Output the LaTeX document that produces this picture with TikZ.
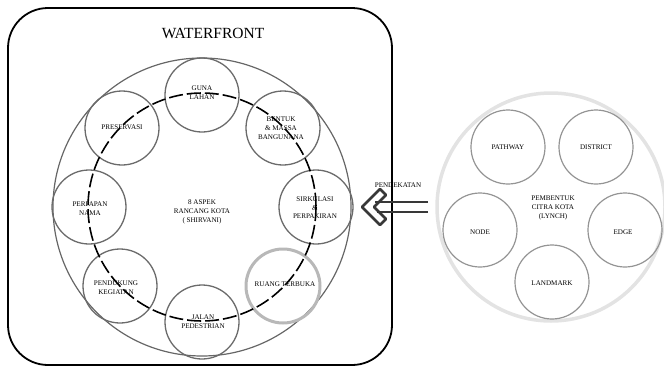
\documentclass[tikz,border=0pt]{standalone}
\usepackage{fontspec}
\setmainfont{Liberation Serif}
\begin{document}
\begin{tikzpicture}[x=1pt,y=-1pt,
  small/.style={circle,draw=black!58,line width=1.3pt,minimum size=74pt,inner sep=0pt},
  smallr/.style={circle,draw=black!42,line width=1.2pt,minimum size=74pt,inner sep=0pt},
  lbl/.style={font=\fontsize{7.1}{8.9}\selectfont,align=center,text=black},
]
\useasboundingbox (0,0) rectangle (664,367);
% outer frame
\draw[line width=1.8pt,rounded corners=40pt] (8,8) rectangle (392,365);
\node[font=\fontsize{15.5}{18}\selectfont] (title) at (213,33) {WATERFRONT};
% big circle
\node[circle,draw=black!60,line width=1.2pt,minimum size=298pt,inner sep=0pt] (big) at (202,207) {};
% small circles
\node[small] (guna) at (202,95) {};
\node[small] (pres) at (122,128) {};
\node[small] (bent) at (283,128) {};
\node[small] (sirk) at (316,207) {};
\node[small] (perp) at (89,207) {};
\node[small] (pend) at (120,286) {};
\node[small] (jalan) at (202,322) {};
\node[circle,draw=black!28,line width=3pt,minimum size=74pt,inner sep=0pt] (ruang) at (283,286) {};
% dashed circle
\draw[line width=1.6pt,dash pattern=on 14pt off 4pt] (202,207) circle (114);
% labels
\node[lbl] (tguna) at (202,93) {GUNA\\LAHAN};
\node[lbl] (tpres) at (122,127) {PRESERVASI};
\node[lbl] (tbent) at (281,128) {BENTUK\\\& MASSA\\BANGUNANA};
\node[lbl,font=\fontsize{7.1}{8.4}\selectfont] (tsirk) at (315,208) {SIRKULASI\\\&\\PERPAKIRAN};
\node[lbl] (tcenter) at (202,212) {8 ASPEK\\RANCANG KOTA\\( SHIRVANI)};
\node[lbl] (tperp) at (90,209) {PERPAPAN\\NAMA};
\node[lbl] (tpend) at (116,288) {PENDUKUNG\\KEGIATAN};
\node[lbl] (tjalan) at (203,322) {JALAN\\PEDESTRIAN};
\node[lbl] (truang) at (285,284) {RUANG TERBUKA};
% right side
\node[circle,draw=black!11,line width=3.5pt,minimum size=228pt,inner sep=0pt] (lynch) at (551,207) {};
\node[smallr] (path) at (508,147) {};
\node[smallr] (dist) at (596,147) {};
\node[smallr] (node) at (480,230) {};
\node[smallr] (edge) at (625,230) {};
\node[smallr] (land) at (552,282) {};
\node[lbl] (tpath) at (508,147) {PATHWAY};
\node[lbl] (tdist) at (596,147) {DISTRICT};
\node[lbl] (tnode) at (480,232) {NODE};
\node[lbl] (tedge) at (623,232) {EDGE};
\node[lbl] (tland) at (552,283) {LANDMARK};
\node[lbl] (tlynch) at (553,208) {PEMBENTUK\\CITRA KOTA\\(LYNCH)};
% arrow
\node[lbl] (tpend2) at (398,185) {PENDEKATAN};
\coordinate (ashaftA) at (428,202);
\coordinate (ashaftB) at (428,212);
\coordinate (ainA) at (375,202);
\coordinate (ainB) at (377,212);
\draw[line width=2.6pt,draw=black!78] (ashaftA) -- (ainA);
\draw[line width=2.6pt,draw=black!78] (ashaftB) -- (ainB);
\draw[line width=2.6pt,draw=black!78,line join=round]
  (362,207) -- (380,189) -- (386,195) -- (374,207) -- (386,219) -- (380,225) -- cycle;
\end{tikzpicture}
\end{document}
